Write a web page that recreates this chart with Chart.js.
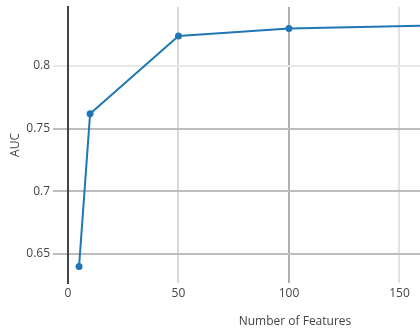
<!DOCTYPE html>
<html>
<head>
<meta charset="utf-8">
<script src="https://cdn.jsdelivr.net/npm/chart.js@4"></script>
<style>
  html, body { margin: 0; padding: 0; background: #fff; }
  canvas { display: block; }
</style>
</head>
<body>
<canvas id="chart" width="420" height="331"></canvas>
<script>
// Model AUC as a function of the number of selected features
const features = [5, 10, 50, 100, 200];
const auc = [0.64, 0.762, 0.824, 0.830, 0.8336];

const xTicks = [0, 50, 100, 150];
const yTicks = [0.65, 0.7, 0.75, 0.8];
const xTitle = 'Number of Features';
const yTitle = 'AUC';

const FONT = "'Open Sans', sans-serif";

// grid line shades per tick value
const xGridColor = v => (v === 0 ? 'rgba(0,0,0,0)' : v === 100 ? '#b0b0b0' : v === 50 ? '#d8d8d8' : '#e2e2e2');
const yGridColor = v => (v === 0.8 ? '#e8e8e8' : '#bdbdbd');

const axisTitles = {
  id: 'axisTitles',
  afterDraw(chart) {
    const ctx = chart.ctx;
    ctx.save();
    ctx.fillStyle = '#444';
    ctx.font = "12px " + FONT;
    ctx.textAlign = 'center';
    ctx.textBaseline = 'middle';
    ctx.fillText(xTitle, 295, 322);
    ctx.translate(16, 145);
    ctx.rotate(-Math.PI / 2);
    ctx.fillText(yTitle, 0, 0);
    ctx.restore();
  }
};

new Chart(document.getElementById('chart'), {
  type: 'line',
  data: {
    datasets: [{
      data: features.map((f, i) => ({ x: f, y: auc[i] })),
      borderColor: '#1f77b4',
      backgroundColor: '#1f77b4',
      borderWidth: 2,
      pointRadius: 2.5,
      pointHoverRadius: 2.5,
      tension: 0,
      clip: { left: 5, top: 5, right: 0, bottom: 5 }
    }]
  },
  options: {
    responsive: false,
    animation: false,
    devicePixelRatio: 1,
    layout: { autoPadding: false, padding: { top: 7, right: 0, bottom: 0, left: 0 } },
    plugins: { legend: { display: false }, tooltip: { enabled: false } },
    scales: {
      x: {
        type: 'linear',
        min: 0,
        max: 159.3,
        afterBuildTicks: s => { s.ticks = xTicks.map(v => ({ value: v })); },
        afterFit: s => { s.height = 48; s.paddingLeft = 0; s.paddingRight = 0; },
        grid: {
          drawTicks: false,
          lineWidth: 2,
          color: c => xGridColor(c.tick ? c.tick.value : null)
        },
        border: { display: false },
        ticks: {
          padding: 3,
          color: '#444',
          font: { family: FONT, size: 12 },
          maxRotation: 0,
          callback: v => String(v)
        }
      },
      y: {
        min: 0.6269,
        max: 0.8471,
        afterBuildTicks: s => { s.ticks = yTicks.map(v => ({ value: v })); },
        afterFit: s => { s.width = 68; s.paddingTop = 0; s.paddingBottom = 0; },
        grid: {
          drawTicks: true,
          tickLength: 15,
          lineWidth: 2,
          color: c => yGridColor(c.tick ? c.tick.value : null)
        },
        border: { display: true, color: '#444', width: 2 },
        ticks: {
          padding: 3,
          color: '#444',
          font: { family: FONT, size: 12 },
          callback: v => String(parseFloat(v.toFixed(2)))
        }
      }
    }
  },
  plugins: [axisTitles]
});
</script>
</body>
</html>
